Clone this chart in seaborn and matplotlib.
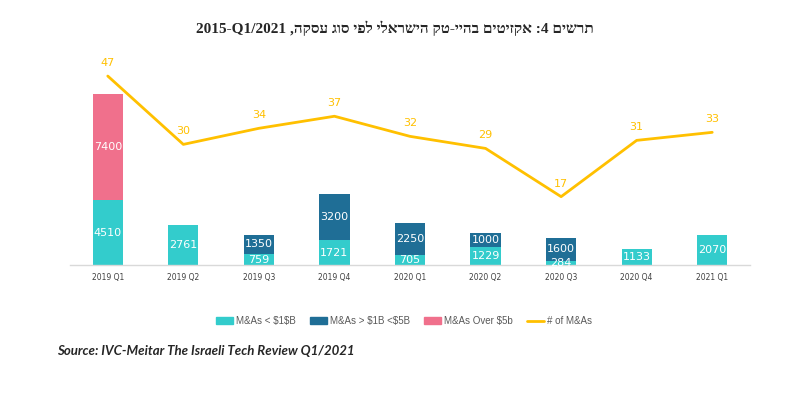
import matplotlib
matplotlib.use("Agg")
import matplotlib.pyplot as plt
import seaborn as sns
import numpy as np
import pandas as pd
from matplotlib.patches import Patch
from matplotlib.lines import Line2D

quarters = ["2019 Q1", "2019 Q2", "2019 Q3", "2019 Q4", "2020 Q1",
            "2020 Q2", "2020 Q3", "2020 Q4", "2021 Q1"]
ma_small = [4510, 2761, 759, 1721, 705, 1229, 284, 1133, 2070]
ma_mid = [0, 0, 1350, 3200, 2250, 1000, 1600, 0, 0]
ma_big = [7400, 0, 0, 0, 0, 0, 0, 0, 0]
n_deals = [47, 30, 34, 37, 32, 29, 17, 31, 33]

series_names = [r"M&As < \$1\$B", r"M&As > \$1B <\$5B", r"M&As Over \$5b", "# of M&As"]
# title: "תרשים 4: אקזיטים בהיי-טק הישראלי לפי סוג עסקה, 2015-Q1/2021"
title_heb_start = "תרשים"
title_heb_main = "אקזיטים בהיי-טק הישראלי לפי סוג עסקה"
title_period = "2015-Q1/2021"
# matplotlib has no bidi support: build the visual (left-to-right) order
title_visual = title_period + " ," + title_heb_main[::-1] + " :4 " + title_heb_start[::-1]
source = "Source: IVC-Meitar The Israeli Tech Review Q1/2021"

c_small = "#33CCCC"
c_mid = "#1F6E96"
c_big = "#F0708C"
c_line = "#FFC000"

sns.set_theme(style="white")
plt.rcParams['font.family'] = ['DejaVu Sans']

fig = plt.figure(figsize=(7.9, 3.98), dpi=100)
ax = fig.add_axes([70/790, 1-265/398, 680/790, 199/398])

df = pd.DataFrame({"q": quarters, "small": ma_small, "mid": ma_mid, "big": ma_big})
bottom_mid = np.array(ma_small)
bottom_big = np.array(ma_small) + np.array(ma_mid)

sns.barplot(data=df, x="q", y="small", color=c_small, width=0.4, ax=ax,
            saturation=1, linewidth=0)
sns.barplot(data=df, x="q", y="mid", color=c_mid, width=0.4, ax=ax,
            saturation=1, bottom=bottom_mid, linewidth=0)
sns.barplot(data=df, x="q", y="big", color=c_big, width=0.4, ax=ax,
            saturation=1, bottom=bottom_big, linewidth=0)

ax.set_xlim(-0.5, 8.5)
ax.set_ylim(0, 13850)
ax.set_xlabel("")
ax.set_ylabel("")
ax.set_yticks([])
for s in ["top", "right", "left"]:
    ax.spines[s].set_visible(False)
ax.spines["bottom"].set_color("#D9D9D9")
ax.spines["bottom"].set_linewidth(1)
ax.tick_params(axis="x", labelsize=5.5, colors="#404040", length=0, pad=6)

# bar labels
for i in range(len(quarters)):
    if ma_small[i]:
        ax.text(i, ma_small[i]/2, str(ma_small[i]), ha="center", va="center",
                color="white", fontsize=8)
    if ma_mid[i]:
        ax.text(i, bottom_mid[i] + ma_mid[i]/2, str(ma_mid[i]), ha="center",
                va="center", color="white", fontsize=8)
    if ma_big[i]:
        ax.text(i, bottom_big[i] + ma_big[i]/2, str(ma_big[i]), ha="center",
                va="center", color="white", fontsize=8)

ax2 = ax.twinx()
sns.lineplot(x=np.arange(len(quarters)), y=n_deals, color=c_line, linewidth=2,
             ax=ax2)
ax2.set_ylim(0, 49.5)
ax2.set_yticks([])
for s in ["top", "right", "left", "bottom"]:
    ax2.spines[s].set_visible(False)
for i, v in enumerate(n_deals):
    ax2.text(i, v + 2.0, str(v), ha="center", va="bottom", color=c_line,
             fontsize=8)

handles = [Patch(color=c_small), Patch(color=c_mid), Patch(color=c_big),
           Line2D([0], [0], color=c_line, lw=2)]
fig.legend(handles, series_names, loc="center", bbox_to_anchor=(404/790, 1-321/398),
           ncol=4, frameon=False, labelcolor="#595959",
           prop={"family": ["Liberation Sans", "DejaVu Sans"], "size": 7},
           handlelength=1.75, handleheight=0.6, columnspacing=1.5, handletextpad=0.25)

fig.text(395/790, 1-28/398, title_visual, ha="center", va="center", fontsize=11,
         fontweight="bold", family=["Liberation Serif", "DejaVu Sans"])
fig.text(57/790, 1-351/398, source, ha="left", va="center", fontsize=9.5,
         fontweight="bold", style="italic", family=["Lato", "DejaVu Sans"])

fig.savefig("out.png", dpi=100)
